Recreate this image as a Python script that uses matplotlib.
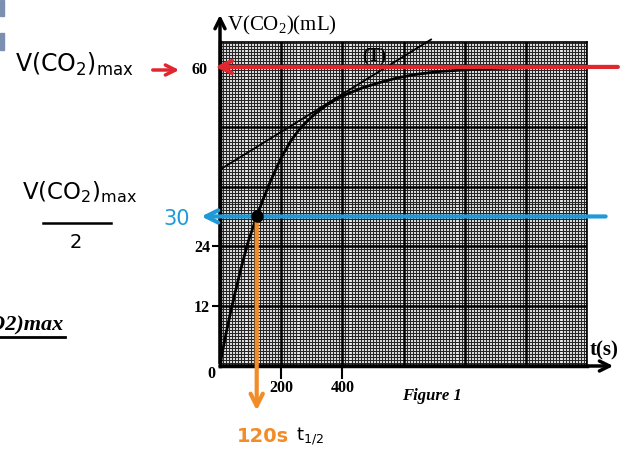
import numpy as np
import matplotlib.pyplot as plt
from matplotlib.patches import Rectangle

plt.rcParams['mathtext.default'] = 'regular'

# curve: t (s), V(CO2) (mL)
t_pts = [0, 5, 20, 35, 49, 70, 92, 120, 140, 164, 185, 202, 230, 256, 280,
         311, 350, 380, 420, 470, 530, 580, 640, 720, 800, 900, 1000, 1200]
v_pts = [0, 1.9, 6.6, 10.9, 14.6, 19.9, 24.9, 30.0, 33.3, 36.9, 39.8, 42.0,
         45.0, 47.2, 48.8, 50.6, 52.4, 53.5, 54.7, 55.9, 57.0, 57.8, 58.5,
         59.1, 59.4, 59.7, 59.85, 60.0]
# tangent (T) end points
tan_t = [0, 690]
tan_v = [39.4, 65.5]

v_max = 60
v_half = 30
t_half = 120
y_ticks = [12, 24]
x_ticks = [200, 400]

W, H = 621, 450
fig = plt.figure(figsize=(W / 100, H / 100), dpi=100)
ax = fig.add_axes([220 / W, 1 - 366 / H, 367 / W, 324 / H])
ax.set_xlim(0, 1200)
ax.set_ylim(0, 65)

# graph paper
for x in np.arange(0, 1201, 10):
    ax.axvline(x, color='#262626', lw=0.85, zorder=1)
for y in np.arange(0, 65.1, 0.6):
    ax.axhline(y, color='#262626', lw=0.85, zorder=1)
for x in np.arange(0, 1201, 200):
    ax.axvline(x, color='black', lw=1.8, zorder=2)
for y in np.arange(0, 65, 12):
    ax.axhline(y, color='black', lw=1.8, zorder=2)

for s in ['top', 'right']:
    ax.spines[s].set_linewidth(1.2)
for s in ['left', 'bottom']:
    ax.spines[s].set_linewidth(2.5)

ax.set_yticks(y_ticks)
ax.set_xticks(x_ticks)
ax.tick_params(axis='y', length=6, width=1.5, pad=1)
ax.tick_params(axis='x', length=9, width=1.5, pad=1)
for lab in ax.get_yticklabels() + ax.get_xticklabels():
    lab.set_fontfamily('Liberation Serif')
    lab.set_fontweight('bold')
    lab.set_fontsize(11.5)

# curve and tangent
ax.plot(t_pts, v_pts, color='black', lw=2, zorder=4, clip_on=False)
ax.plot(tan_t, tan_v, color='black', lw=1.3, zorder=4, clip_on=False)
ax.text(505, 62.2, '(T)', fontfamily='Liberation Serif', fontweight='bold',
        fontsize=13, ha='center', va='center', zorder=5)

# axis arrows
ax.annotate('', xy=(0, 71), xytext=(0, 0), annotation_clip=False,
            arrowprops=dict(arrowstyle='->', color='black', lw=2.5,
                            mutation_scale=18))
ax.annotate('', xy=(1295, 0), xytext=(0, 0), annotation_clip=False,
            arrowprops=dict(arrowstyle='->', color='black', lw=2.5,
                            mutation_scale=18))

# coloured guides
red = '#e0262f'
blue = '#1f9ad8'
orange = '#f28c28'
ax.annotate('', xy=(-25, v_max), xytext=(1310, v_max), annotation_clip=False,
            arrowprops=dict(arrowstyle='->', color=red, lw=3, mutation_scale=22),
            zorder=6)
ax.annotate('', xy=(-70, v_half), xytext=(1270, v_half), annotation_clip=False,
            arrowprops=dict(arrowstyle='->', color=blue, lw=3, mutation_scale=22),
            zorder=6)
ax.annotate('', xy=(t_half, -9.5), xytext=(t_half, v_half), annotation_clip=False,
            arrowprops=dict(arrowstyle='->', color=orange, lw=3, mutation_scale=22),
            zorder=6)
ax.plot([t_half], [v_half], 'o', color='black', ms=8, zorder=7)


def ft(x, y, s, **kw):
    fig.text(x / W, 1 - y / H, s, **kw)


serif = dict(fontfamily='Liberation Serif', fontweight='bold')
ft(227, 25, 'V(CO$_2$)(mL)', fontfamily='Liberation Serif', fontsize=15,
   va='center')
ft(604, 350, 't(s)', fontsize=15, va='center', ha='center', **serif)
ft(211, 374, '0', fontsize=11.5, va='center', ha='center', **serif)
ft(432, 396, 'Figure 1', fontsize=12, va='center', ha='center',
   fontstyle='italic', **serif)

# left annotations
ft(74, 64, 'V(CO$_2$)$_{max}$', fontsize=17, va='center', ha='center')
ax.annotate('', xy=(182 / W, 1 - 70 / H), xytext=(150 / W, 1 - 70 / H),
            xycoords='figure fraction', annotation_clip=False,
            arrowprops=dict(arrowstyle='->', color=red, lw=2.5,
                            mutation_scale=18))
ft(199, 70, '60', fontsize=11.5, va='center', ha='center', **serif)

ft(80, 192, 'V(CO$_2$)$_{max}$', fontsize=16.5, va='center', ha='center')
fig.add_artist(plt.Line2D([43 / W, 111 / W], [1 - 223 / H, 1 - 223 / H],
                          color='black', lw=1.8))
ft(76, 242, '2', fontsize=14, va='center', ha='center')

ft(177, 219, '30', color=blue, fontsize=15, va='center', ha='center')
ft(263, 437, '120s', color=orange, fontsize=14, va='center', ha='center',
   fontweight='bold')
ft(296, 436, 't$_{1/2}$', fontsize=13, va='center', ha='left')

ft(64, 325, 'V(CO2)max', fontfamily='Liberation Serif', fontsize=16,
   fontweight='bold', fontstyle='italic', va='center', ha='right')
fig.add_artist(plt.Line2D([0, 65 / W], [1 - 337 / H, 1 - 337 / H],
                          color='black', lw=2))

# small blue-grey marks at the left edge
fig.add_artist(Rectangle((0, 1 - 16 / H), 4 / W, 16 / H, color='#7b8fb0',
                         transform=fig.transFigure))
fig.add_artist(Rectangle((0, 1 - 50 / H), 4 / W, 17 / H, color='#7b8fb0',
                         transform=fig.transFigure))

fig.savefig('out.png', dpi=100)
